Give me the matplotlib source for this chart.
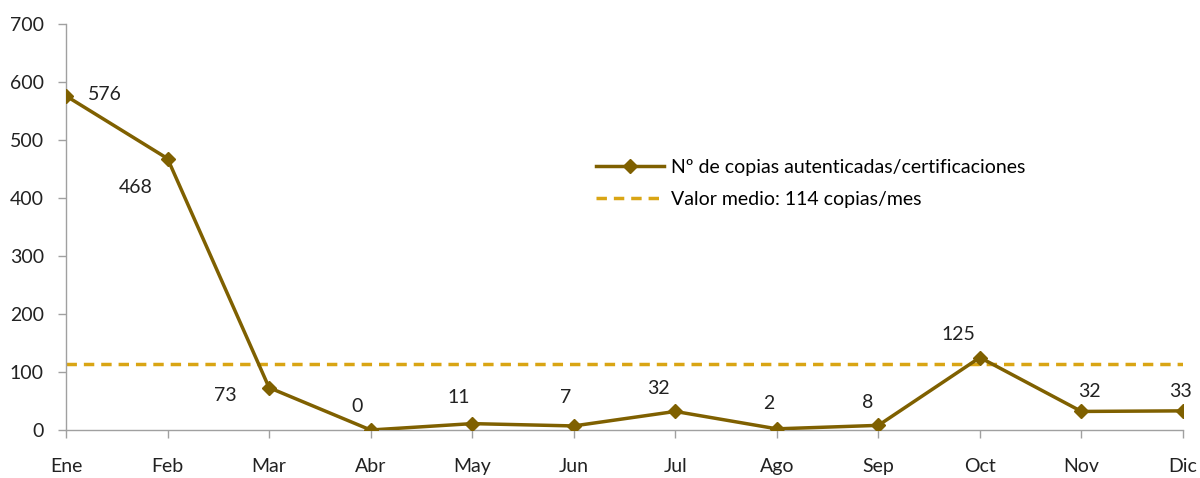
import matplotlib
matplotlib.use("Agg")
import matplotlib.pyplot as plt

months = ["Ene", "Feb", "Mar", "Abr", "May", "Jun", "Jul", "Ago", "Sep", "Oct", "Nov", "Dic"]
copias = [576, 468, 73, 0, 11, 7, 32, 2, 8, 125, 32, 33]
media = 114
yticks = [0, 100, 200, 300, 400, 500, 600, 700]
serie_label = "Nº de copias autenticadas/certificaciones"
media_label = "Valor medio: 114 copias/mes"

# label offsets in pixels (style only)
label_offsets = [(39, 1), (-32, -29), (-44, -8), (-14, 24), (-13, 26), (-8, 28),
                 (-17, 23), (-8, 25), (-11, 23), (-22, 23), (8, 20), (-3, 19)]

plt.rcParams['font.family'] = ['Lato', 'DejaVu Sans']

fig = plt.figure(figsize=(12, 4.78), dpi=100)
ax = fig.add_axes([66/1200, (478-430)/478, (1183-66)/1200, (430-24)/478])

x = list(range(len(months)))
main_color = "#7F6000"
mean_color = "#D9A514"
fs = 14

ax.axhline(media, color=mean_color, lw=2.5, ls=(0, (3, 2)), label=media_label, zorder=2)
ax.plot(x, copias, color=main_color, lw=2.5, marker="D", markersize=7, label=serie_label, zorder=3)

for xi, v, (dx, dy) in zip(x, copias, label_offsets):
    ax.annotate(str(v), (xi, v), xytext=(dx, dy), textcoords="offset pixels",
                ha="center", va="center", fontsize=fs, color="#222222")

ax.set_xlim(0, len(months) - 1)
ax.set_ylim(0, 700)
ax.set_yticks(yticks)
ax.set_xticks(x)
ax.set_xticklabels(months)
ax.tick_params(axis="both", labelsize=fs, colors="#222222", length=6, width=1)
ax.tick_params(axis="both", color="#A0A0A0")
ax.tick_params(axis="x", pad=14)
ax.tick_params(axis="y", pad=10)
for s in ["top", "right"]:
    ax.spines[s].set_visible(False)
for s in ["left", "bottom"]:
    ax.spines[s].set_color("#A0A0A0")
    ax.spines[s].set_linewidth(1)

handles, labels = ax.get_legend_handles_labels()
leg = ax.legend(handles[::-1], labels[::-1], loc="upper left", bbox_to_anchor=(512/1117, 0.71),
                frameon=False, fontsize=fs, handlelength=3.5, labelspacing=0.75, handletextpad=0.4)

fig.savefig("out.png", dpi=100)
